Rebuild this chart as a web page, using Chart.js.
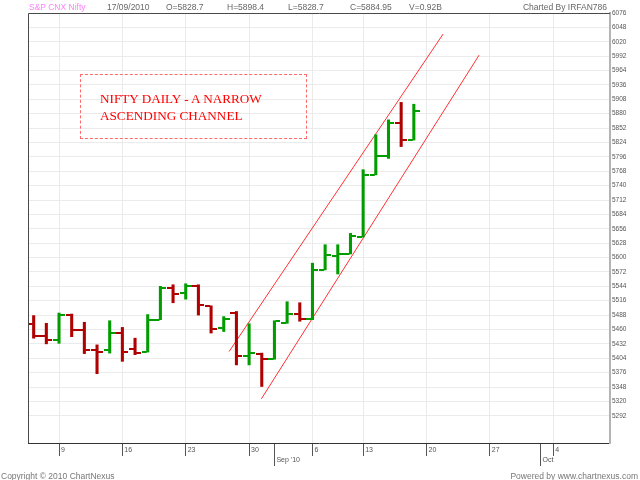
<!DOCTYPE html>
<html lang="en">
  <head>
    <meta charset="UTF-8" />
    <title>S&amp;P CNX Nifty daily</title>
    <script src="https://cdn.jsdelivr.net/npm/chart.js"></script>
    <style>
      body {
        margin: 0;
        background: #fff;
      }
      #wrap {
        position: relative;
        width: 640px;
        height: 480px;
        font-family: "Liberation Sans", Arial, sans-serif;
      }
      #wrap canvas {
        position: absolute;
        left: 0;
        top: 0;
      }
      .hd {
        position: absolute;
        top: 2px;
        font-size: 8.5px;
        line-height: 10px;
        color: #666;
        white-space: nowrap;
      }
      .ft {
        position: absolute;
        top: 471px;
        font-size: 8.5px;
        line-height: 10px;
        color: #777;
        white-space: nowrap;
      }
      #note {
        position: absolute;
        left: 80px;
        top: 74px;
        width: 227px;
        height: 65px;
        box-sizing: border-box;
        border: 1px dashed #ff6b6b;
        padding: 14.8px 0 0 19px;
        font: 13.2px/17.4px "Liberation Serif", "Times New Roman", serif;
        color: #f00;
      }
    </style>
  </head>
  <body>
    <div id="wrap">
      <canvas id="myChart" width="640" height="480"></canvas>
      <span class="hd" style="left: 29px; color: #ff80ff">S&amp;P CNX Nifty</span>
      <span class="hd" id="hDate" style="left: 107px"></span>
      <span class="hd" id="hO" style="left: 166px"></span>
      <span class="hd" id="hH" style="left: 227px"></span>
      <span class="hd" id="hL" style="left: 288px"></span>
      <span class="hd" id="hC" style="left: 350px"></span>
      <span class="hd" style="left: 409px">V=0.92B</span>
      <span class="hd" style="right: 33px">Charted By IRFAN786</span>
      <div id="note">
        <div>NIFTY DAILY - A NARROW</div>
        <div>ASCENDING CHANNEL</div>
      </div>
      <span class="ft" style="left: 1px">Copyright © 2010 ChartNexus</span>
      <span class="ft" style="right: 2px">Powered by www.chartnexus.com</span>
    </div>
    <script>
      // trading days, index 0 = 05/08/2010
      const dates = [
        "05/08/2010", "06/08/2010", "09/08/2010", "10/08/2010", "11/08/2010",
        "12/08/2010", "13/08/2010", "16/08/2010", "17/08/2010", "18/08/2010",
        "19/08/2010", "20/08/2010", "23/08/2010", "24/08/2010", "25/08/2010",
        "26/08/2010", "27/08/2010", "30/08/2010", "31/08/2010", "01/09/2010",
        "02/09/2010", "03/09/2010", "06/09/2010", "07/09/2010", "08/09/2010",
        "09/09/2010", "13/09/2010", "14/09/2010", "15/09/2010", "16/09/2010",
        "17/09/2010",
      ];
      const opens = [
        5471, 5448, 5440, 5488, 5459, 5420, 5420, 5453, 5422, 5416,
        5479, 5540, 5531, 5545, 5506, 5462, 5492, 5409, 5412, 5402,
        5472, 5490, 5480, 5576, 5603, 5607, 5640, 5761, 5797, 5861,
        5828.7,
      ];
      const highs = [
        5487, 5472, 5492, 5490, 5474, 5430, 5477, 5464, 5443, 5489,
        5544, 5547, 5549, 5547, 5506, 5485, 5495, 5471, 5414, 5477,
        5514, 5512, 5589, 5625, 5625, 5647, 5771, 5839, 5868, 5902,
        5898.4,
      ];
      const lows = [
        5443, 5432, 5433, 5446, 5413, 5374, 5414, 5398, 5411, 5416,
        5479, 5512, 5519, 5488, 5453, 5456, 5391, 5391, 5349, 5402,
        5472, 5476, 5479, 5576, 5568, 5607, 5640, 5761, 5793, 5816,
        5828.7,
      ];
      const closes = [
        5448, 5440, 5488, 5459, 5420, 5416, 5453, 5417, 5415, 5479,
        5540, 5529, 5544, 5508, 5461, 5480, 5409, 5414, 5402, 5476,
        5490, 5480, 5576, 5605, 5607, 5641, 5761, 5797, 5861, 5829,
        5884.95,
      ];

      // x ticks (trading day index) and their labels
      const xTickPos = [2, 7, 12, 17, 19, 22, 26, 31, 36, 40, 41];
      const xTickLabels = ["9", "16", "23", "30", ["", "Sep '10"], "6", "13", "20", "27", ["", "Oct"], "4"];
      const yTickValues = [
        5292, 5320, 5348, 5376, 5404, 5432, 5460, 5488, 5516, 5544, 5572, 5600, 5628, 5656,
        5684, 5712, 5740, 5768, 5796, 5824, 5852, 5880, 5908, 5936, 5964, 5992, 6020, 6048, 6076,
      ];

      // channel lines, endpoints in (day index, price)
      const upperChannel = [
        { x: 15.42, y: 5417 },
        { x: 32.31, y: 6035 },
      ];
      const lowerChannel = [
        { x: 17.97, y: 5325 },
        { x: 35.15, y: 5994 },
      ];

      const last = dates.length - 1;
      document.getElementById("hDate").textContent = dates[last];
      document.getElementById("hO").textContent = "O=" + opens[last];
      document.getElementById("hH").textContent = "H=" + highs[last];
      document.getElementById("hL").textContent = "L=" + lows[last];
      document.getElementById("hC").textContent = "C=" + closes[last];

      const UP = "#009c00";
      const DOWN = "#b00000";

      // little tick images for open (left) and close (right)
      function tickImg(color, side) {
        const c = document.createElement("canvas");
        c.width = 12;
        c.height = 2;
        const g = c.getContext("2d");
        g.fillStyle = color;
        g.fillRect(side === "left" ? 0 : 7, 0, 5, 2);
        return c;
      }
      const imgs = {
        upL: tickImg(UP, "left"),
        upR: tickImg(UP, "right"),
        dnL: tickImg(DOWN, "left"),
        dnR: tickImg(DOWN, "right"),
      };
      const isUp = (i) => closes[i] >= opens[i];

      const isMonth = (i) => Array.isArray(xTickLabels[i]);

      const frame = {
        id: "frame",
        afterDraw(chart) {
          const { ctx, chartArea: a } = chart;
          ctx.save();
          ctx.strokeStyle = "#4a4a4a";
          ctx.lineWidth = 1;
          ctx.beginPath();
          ctx.moveTo(a.left + 0.5, a.bottom);
          ctx.lineTo(a.left + 0.5, a.top + 0.5);
          ctx.lineTo(a.right, a.top + 0.5);
          ctx.stroke();
          ctx.restore();
        },
      };

      const ctx = document.getElementById("myChart");
      new Chart(ctx, {
        type: "bar",
        data: {
          datasets: [
            {
              type: "bar",
              data: dates.map((d, i) => ({ x: i, y: [lows[i], highs[i]] })),
              backgroundColor: dates.map((d, i) => (isUp(i) ? UP : DOWN)),
              barThickness: 2.4,
              borderWidth: 0,
              order: 1,
            },
            {
              type: "scatter",
              data: dates.map((d, i) => ({ x: i, y: opens[i] })),
              pointStyle: (c) => (isUp(c.dataIndex) ? imgs.upL : imgs.dnL),
              pointRadius: 3,
              order: 1,
            },
            {
              type: "scatter",
              data: dates.map((d, i) => ({ x: i, y: closes[i] })),
              pointStyle: (c) => (isUp(c.dataIndex) ? imgs.upR : imgs.dnR),
              pointRadius: 3,
              order: 1,
            },
            {
              type: "line",
              data: upperChannel,
              borderColor: "#ff3030",
              borderWidth: 1,
              pointRadius: 0,
              order: 2,
            },
            {
              type: "line",
              data: lowerChannel,
              borderColor: "#ff3030",
              borderWidth: 1,
              pointRadius: 0,
              order: 2,
            },
          ],
        },
        options: {
          responsive: false,
          animation: false,
          events: [],
          layout: { padding: { left: 28, top: 13, right: 0, bottom: 0 } },
          plugins: { legend: { display: false }, tooltip: { enabled: false } },
          scales: {
            x: {
              type: "linear",
              offset: false,
              min: -0.447,
              max: 45.48,
              afterBuildTicks: (axis) => {
                axis.ticks = xTickPos.map((v) => ({ value: v }));
              },
              afterFit: (axis) => {
                axis.height = 37;
              },
              border: { color: "#333", width: 1 },
              grid: {
                offset: false,
                color: (c) => (isMonth(c.index) ? "rgba(0,0,0,0)" : "#ebebeb"),
                tickColor: "#555",
                tickLength: 23,
                tickBorderDash: (c) => (isMonth(c.index) ? [] : [12, 40]),
              },
              ticks: {
                autoSkip: false,
                maxRotation: 0,
                align: "start",
                labelOffset: 2,
                padding: -21,
                color: "#555",
                font: { size: 7, family: "Liberation Sans", lineHeight: "10px" },
                callback: (v, i) => xTickLabels[i],
              },
            },
            y: {
              position: "right",
              min: 5239,
              max: 6076,
              afterBuildTicks: (axis) => {
                axis.ticks = yTickValues.map((v) => ({ value: v }));
              },
              afterFit: (axis) => {
                axis.width = 30;
              },
              border: { color: "#b4b4b4", width: 2 },
              grid: { color: "#ebebeb", drawTicks: false },
              ticks: {
                padding: 2,
                color: "#555",
                font: { size: 6.5, family: "Liberation Sans" },
                callback: (v) => String(v),
              },
            },
          },
        },
        plugins: [frame],
      });
    </script>
  </body>
</html>
